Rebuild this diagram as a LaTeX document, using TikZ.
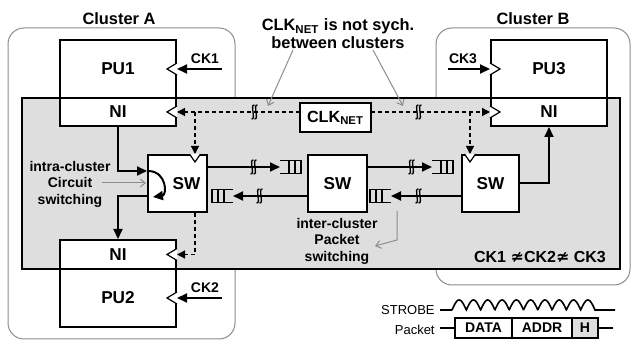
\documentclass[tikz,border=0pt]{standalone}
\usepackage{fontspec}
\setmainfont{Liberation Sans}
\newfontfamily\symfont{DejaVu Sans}
\usetikzlibrary{arrows.meta,calc}
\begin{document}
\begin{tikzpicture}[x=0.5pt,y=-0.5pt,
  cluster/.style={draw=black!45,line width=0.5pt,rounded corners=8pt},
  nocbg/.style={draw,fill=black!13,line width=1pt},
  box/.style={draw,fill=white,line width=1pt,inner sep=0pt,font=\bfseries\fontsize{8.6}{10}\selectfont},
  sz/.style 2 args={minimum width=#1*0.5pt,minimum height=#2*0.5pt},
  arr/.style={line width=1pt,-{Triangle[length=5pt,width=4.5pt]}},
  clkline/.style={line width=0.6pt,dash pattern=on 2pt off 1.5pt,-{Triangle[length=4pt,width=4pt]}},
  note/.style={draw=black!45,line width=0.5pt,-{Straight Barb[length=2.5pt,width=4pt]}},
  lbl/.style={font=\bfseries\fontsize{7}{8.25}\selectfont,align=center,inner sep=0pt},
  ttl/.style={font=\bfseries\fontsize{8.2}{9}\selectfont,align=center,inner sep=0pt},
  small/.style={font=\fontsize{6.5}{8}\selectfont,inner sep=0pt},
  pkt/.style={box,line width=0.8pt,font=\bfseries\fontsize{7}{8}\selectfont},
  brk/.pic={\draw[line width=0.65pt] (1.5,-7) .. controls (-3.5,-8) and (3.5,8) .. (-1.5,7);
            \draw[line width=0.65pt] (4.5,-7) .. controls (-0.5,-8) and (6.5,8) .. (1.5,7);},
  qR/.pic={\draw[line width=0.6pt] (0,-6.5) -- (21,-6.5) -- (21,6.5) -- (0,6.5);
           \draw[line width=0.6pt] (9,-6.5) -- (9,6.5) (15,-6.5) -- (15,6.5);},
  qL/.pic={\draw[line width=0.6pt] (0,-6.5) -- (-21,-6.5) -- (-21,6.5) -- (0,6.5);
           \draw[line width=0.6pt] (-9,-6.5) -- (-9,6.5) (-15,-6.5) -- (-15,6.5);},
  clkL/.pic={\draw[line width=0.6pt,fill=white] (0,-6) -- (-10,0) -- (0,6);},
  clkR/.pic={\draw[line width=0.6pt,fill=white] (0,-6) -- (10,0) -- (0,6);},
  clkD/.pic={\draw[line width=0.6pt,fill=white] (-5.5,0) -- (0,8) -- (5.5,0);}
]
\useasboundingbox (0,0) rectangle (632,341);

% clusters
\draw[cluster] (8,28) rectangle (235,339);
\draw[cluster] (436,28) rectangle (630,285);
\node[ttl] (cA) at (119,19) {Cluster A};
\node[ttl] (cB) at (533,19) {Cluster B};

% NoC domain
\draw[nocbg] (22,98) rectangle (620,269);

% boxes
\node[box,sz={116}{58}] (PU1) at (118,69) {PU1};
\node[box,sz={116}{28}] (NI1) at (118,112) {NI};
\node[box,sz={116}{58}] (PU3) at (549,69) {PU3};
\node[box,sz={116}{28}] (NI3) at (549,112) {NI};
\node[box,sz={116}{29}] (NI2) at (118,254.5) {NI};
\node[box,sz={116}{58}] (PU2) at (118,298) {PU2};
\node[box,sz={59}{57}] (SW1) at (177.5,183.5) {\hspace*{9pt}SW};
\node[box,sz={59}{57}] (SW2) at (337.5,183.5) {SW};
\node[box,sz={57}{57}] (SW3) at (490.5,183.5) {SW};

% clock dashed network
\coordinate (sw1clk) at ($(SW1.north west)+(48,0)$);
\coordinate (sw3clk) at ($(SW3.north west)+(9,0)$);
\coordinate (sw1bot) at ($(SW1.south west)+(48,0)$);
\draw[clkline] (300,112) -- (NI1.east);
\draw[clkline] (371,112) -- (NI3.west);
\draw[clkline] (sw1clk |- NI1.east) -- (sw1clk);
\draw[clkline] (sw3clk |- NI3.west) -- (sw3clk);
\draw[clkline] (sw1bot) |- (NI2.east);
\node[box,sz={71}{29},font=\bfseries\fontsize{8.1}{9}\selectfont] (CLK) at (335.5,117.5) {CLK\textsubscript{NET}};
\pic at (253,112) {brk};
\pic at (417,112) {brk};

% clock triangles
\pic at (NI1.east) {clkL};
\pic at (PU1.east) {clkL};
\pic at (NI2.east) {clkL};
\pic at (PU2.east) {clkL};
\pic at (PU3.west) {clkR};
\pic at (NI3.west) {clkR};
\pic at (sw1clk) {clkD};
\pic at (sw3clk) {clkD};

% external clocks
\coordinate (ck1) at (222,69);
\coordinate (ck2) at (222,298);
\coordinate (ck3) at (448,69);
\draw[arr] (ck1) -- (PU1.east);
\draw[arr] (ck2) -- (PU2.east);
\draw[arr] (ck3) -- (PU3.west);
\node[lbl] (lck1) at (205,59) {CK1};
\node[lbl] (lck2) at (205,288) {CK2};
\node[lbl] (lck3) at (463,59) {CK3};

% queues
\coordinate (q1) at (280,167);
\coordinate (q2) at (233,196);
\coordinate (q3) at (432,167);
\coordinate (q4) at (391,196);
\pic at (q1) {qR};
\pic at (q2) {qL};
\pic at (q3) {qR};
\pic at (q4) {qL};
\draw[arr] (SW1.east |- q1) -- (q1);
\draw[arr] (SW2.west |- q2) -- (q2);
\draw[arr] (SW2.east |- q3) -- (q3);
\draw[arr] (SW3.west |- q4) -- (q4);
\pic at (252,167) {brk};
\pic at (258,196) {brk};
\pic at (410,167) {brk};
\pic at (417,196) {brk};

% circuit paths
\draw[arr] (NI1.south) |- ($(SW1.west)+(0,-12.5)$);
\draw[arr] ($(SW1.west)+(0,13)$) -| (NI2.north);
\draw[arr] (SW3.east) -| (NI3.south);
\draw[arr] ($(SW1.west)+(2,-12.5)$) .. controls (167,172) and (167,195) .. (153,197);

% annotations
\node[lbl] (intra) at (70,184) {intra-cluster\\Circuit\\switching};
\draw[note] (102,183) -- (146,183);
\node[lbl] (inter) at (337,241) {inter-cluster\\Packet\\switching};
\draw[note] (397,211) -- (397,240) -- (375,246);
\node[ttl] (title) at (338,34) {CLK\textsubscript{NET} is not sych.\\between clusters};
\draw[note] (293,50) -- (268,106);
\draw[note] (373,50) -- (403,106);
\node[font=\bfseries\fontsize{8}{9}\selectfont,inner sep=0pt] (ckrel) at (540,257) {CK1 {\symfont ≄}CK2{\symfont ≄} CK3};

% timing
\node[small,anchor=east] (strobe) at (435,310) {STROBE};
\node[small,anchor=east] (packet) at (435,330) {Packet};
\draw[line width=0.8pt] (440,310) -- (452,310)
  plot[domain=0:143,samples=300] ({452+\x},{310-10*abs(sin(\x/14.3*180))})
  -- (615,310);
\node[pkt,sz={57}{20}] (DATA) at (483.5,328) {DATA};
\node[pkt,sz={60}{20}] (ADDR) at (542,328) {ADDR};
\node[pkt,sz={26}{20},fill=black!13] (H) at (585,328) {H};
\coordinate (pin) at (440,328);
\coordinate (pout) at (613,328);
\draw[line width=0.8pt] (pin) -- (DATA.west);
\draw[line width=0.8pt] (H.east) -- (pout);
\end{tikzpicture}
\end{document}
